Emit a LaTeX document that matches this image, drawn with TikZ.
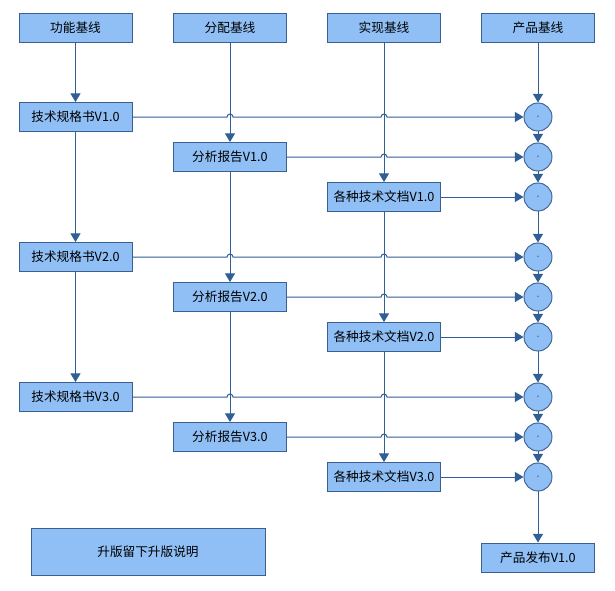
\documentclass[tikz,border=0pt]{standalone}
\usepackage{fontspec}
\setmainfont{Noto Sans CJK SC}
\usetikzlibrary{arrows.meta,calc}
\definecolor{boxfill}{RGB}{143,191,245}
\definecolor{boxline}{RGB}{60,96,142}
\definecolor{linkcol}{RGB}{48,94,150}

\begin{document}
\begin{tikzpicture}[x=0.75pt,y=-0.75pt,>={Triangle[width=7.5pt,length=6.5pt]},
  every node/.style={font=\fontsize{9.5}{11}\selectfont},
  box/.style={draw=boxline,fill=boxfill,line width=0.7pt,minimum width=84.75pt,
    minimum height=21.75pt,inner sep=0pt},
  merge/.style={circle,draw=boxline,fill=boxfill,line width=0.7pt,minimum size=21pt,
    inner sep=0pt,font=\fontsize{5}{6}\selectfont},
  link/.style={draw=linkcol,line width=0.75pt}]
  \useasboundingbox (0,0) rectangle (615,590);
  % baselines
  \node[box] (hf) at (75.5,28) {功能基线};
  \node[box] (ha) at (230,28) {分配基线};
  \node[box] (hi) at (384,28) {实现基线};
  \node[box] (hp) at (538,28) {产品基线};
  % versions
  \foreach \v/\y in {1/117,2/257,3/397} {
    \node[box] (spec\v) at (75.5,\y) {技术规格书V\v.0};
    \node[box] (rep\v) at (230,\y+40) {分析报告V\v.0};
    \node[box] (doc\v) at (384,\y+80) {各种技术文档V\v.0};
    \node[merge] (ms\v) at (538,\y) {-};
    \node[merge] (mr\v) at (538,\y+40) {-};
    \node[merge] (md\v) at (538,\y+80) {-};
  }
  \node[box,minimum width=175.5pt,minimum height=35.25pt] (note) at (148,551.5) {升版留下升版说明};
  \node[box] (rel) at (538,557.5) {产品发布V1.0};
  % vertical chains
  \draw[link,->] (hf) -- (spec1);
  \draw[link,->] (spec1) -- (spec2);
  \draw[link,->] (spec2) -- (spec3);
  \draw[link,->] (ha) -- (rep1);
  \draw[link,->] (rep1) -- (rep2);
  \draw[link,->] (rep2) -- (rep3);
  \draw[link,->] (hi) -- (doc1);
  \draw[link,->] (doc1) -- (doc2);
  \draw[link,->] (doc2) -- (doc3);
  \draw[link,->] (hp) -- (ms1);
  \draw[link,->] (ms1) -- (mr1);
  \draw[link,->] (mr1) -- (md1);
  \draw[link,->] (md1) -- (ms2);
  \draw[link,->] (ms2) -- (mr2);
  \draw[link,->] (mr2) -- (md2);
  \draw[link,->] (md2) -- (ms3);
  \draw[link,->] (ms3) -- (mr3);
  \draw[link,->] (mr3) -- (md3);
  \draw[link,->] (md3) -- (rel);
  % horizontal links, hopping over the verticals
  \foreach \v in {1,2,3} {
    \draw[link,->] (spec\v.east) -- ($(spec\v.east -| ha)+(-3,0)$)
      arc[start angle=180,end angle=0,radius=2.25pt]
      -- ($(spec\v.east -| hi)+(-3,0)$)
      arc[start angle=180,end angle=0,radius=2.25pt] -- (ms\v.west);
    \draw[link,->] (rep\v.east) -- ($(rep\v.east -| hi)+(-3,0)$)
      arc[start angle=180,end angle=0,radius=2.25pt] -- (mr\v.west);
    \draw[link,->] (doc\v.east) -- (md\v.west);
  }
\end{tikzpicture}
\end{document}
